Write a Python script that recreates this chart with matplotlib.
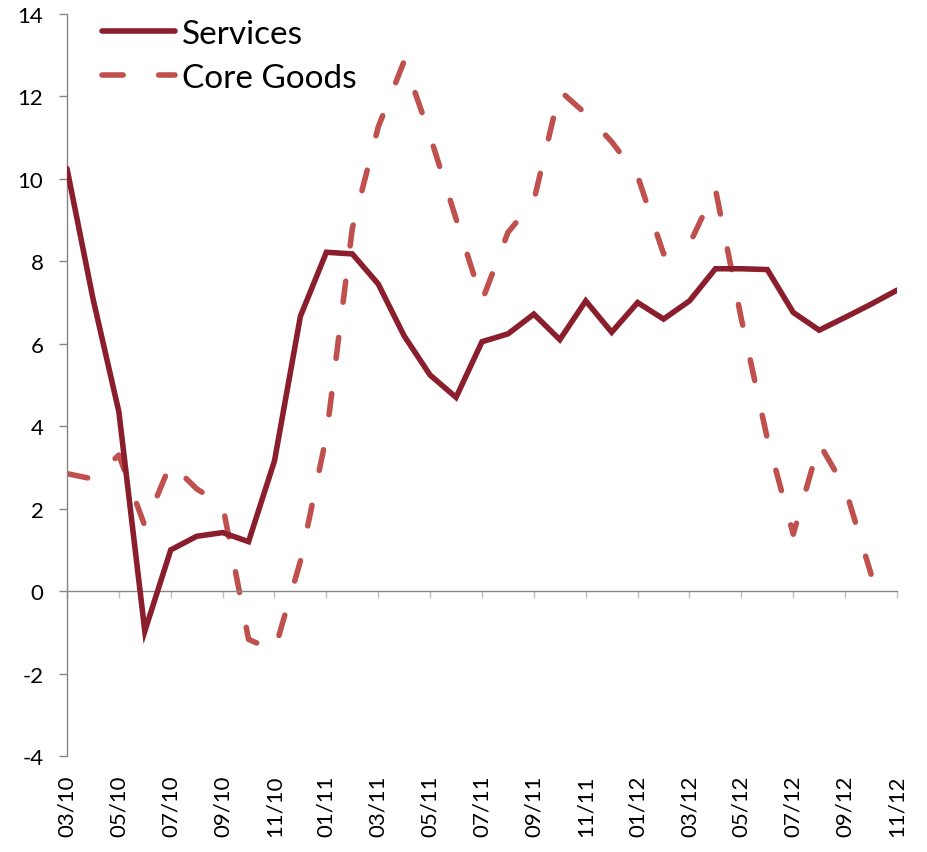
import numpy as np
import matplotlib
matplotlib.use("Agg")
import matplotlib.pyplot as plt

plt.rcParams['font.family'] = ['Lato', 'DejaVu Sans']

# monthly readings, 03/10 .. 11/12
services = [10.25, 7.1, 4.35, -0.97, 1.0, 1.33, 1.42, 1.2, 3.16, 6.67,
            8.22, 8.18, 7.45, 6.19, 5.24, 4.7, 6.05, 6.24, 6.72, 6.1,
            7.04, 6.28, 7.0, 6.6, 7.04, 7.82, 7.82, 7.8, 6.76, 6.33,
            6.64, 6.96, 7.3]
core_goods = [2.85, 2.72, 3.3, 1.58, 3.1, 2.48, 2.09, -1.17, -1.45, 0.73,
              3.76, 8.8, 11.26, 12.86, 11.04, 9.03, 7.04, 8.7, 9.47, 12.14,
              11.58, 10.9, 10.07, 8.18, 8.42, 9.75, 6.6, 3.7, 1.38, 3.58,
              2.5, 0.41, np.nan]
tick_labels = ['03/10', '05/10', '07/10', '09/10', '11/10', '01/11', '03/11',
               '05/11', '07/11', '09/11', '11/11', '01/12', '03/12', '05/12',
               '07/12', '09/12', '11/12']
y_ticks = [-4, -2, 0, 2, 4, 6, 8, 10, 12, 14]

x = np.arange(len(services))

fig = plt.figure(figsize=(9.28, 8.53), dpi=100)
ax = fig.add_axes([67 / 928, 1 - 757 / 853, (897 - 67) / 928, (757 - 15) / 853])

ax.plot(x, services, color='#8B1E2D', lw=4.0, solid_capstyle='round',
        solid_joinstyle='miter', label='Services', zorder=3)
ax.plot(x, core_goods, color='#C0504D', lw=4.0, linestyle=(0, (3.8, 6.4)),
        dash_capstyle='round', label='Core Goods', zorder=2)

# zero line carries the month ticks; labels sit below the plot
for s in ['top', 'right']:
    ax.spines[s].set_visible(False)
ax.spines['left'].set_color('#868686')
ax.spines['left'].set_linewidth(1.0)
ax.spines['bottom'].set_position(('data', 0))
ax.spines['bottom'].set_color('#868686')
ax.spines['bottom'].set_linewidth(1.0)

ax.set_xlim(0, len(services) - 1)
ax.set_ylim(-4, 14)
ax.set_yticks(y_ticks)
ax.set_yticklabels([str(v) for v in y_ticks])
ax.set_xticks(x[::2])
ax.set_xticklabels(tick_labels)

ax.tick_params(axis='y', direction='out', length=6, width=1, color='#868686',
               pad=11, labelsize=16)
ax.tick_params(axis='x', direction='out', length=5, width=1, color='#BFBFBF',
               pad=127, labelsize=16, labelrotation=90)

leg = ax.legend(loc='upper left', bbox_to_anchor=(102 / 928, 1 - 20 / 853),
                bbox_transform=fig.transFigure, frameon=False, fontsize=24,
                handlelength=2.2, handletextpad=0.2, labelspacing=0.42,
                borderpad=0, borderaxespad=0)

fig.savefig('out.png', dpi=100)
